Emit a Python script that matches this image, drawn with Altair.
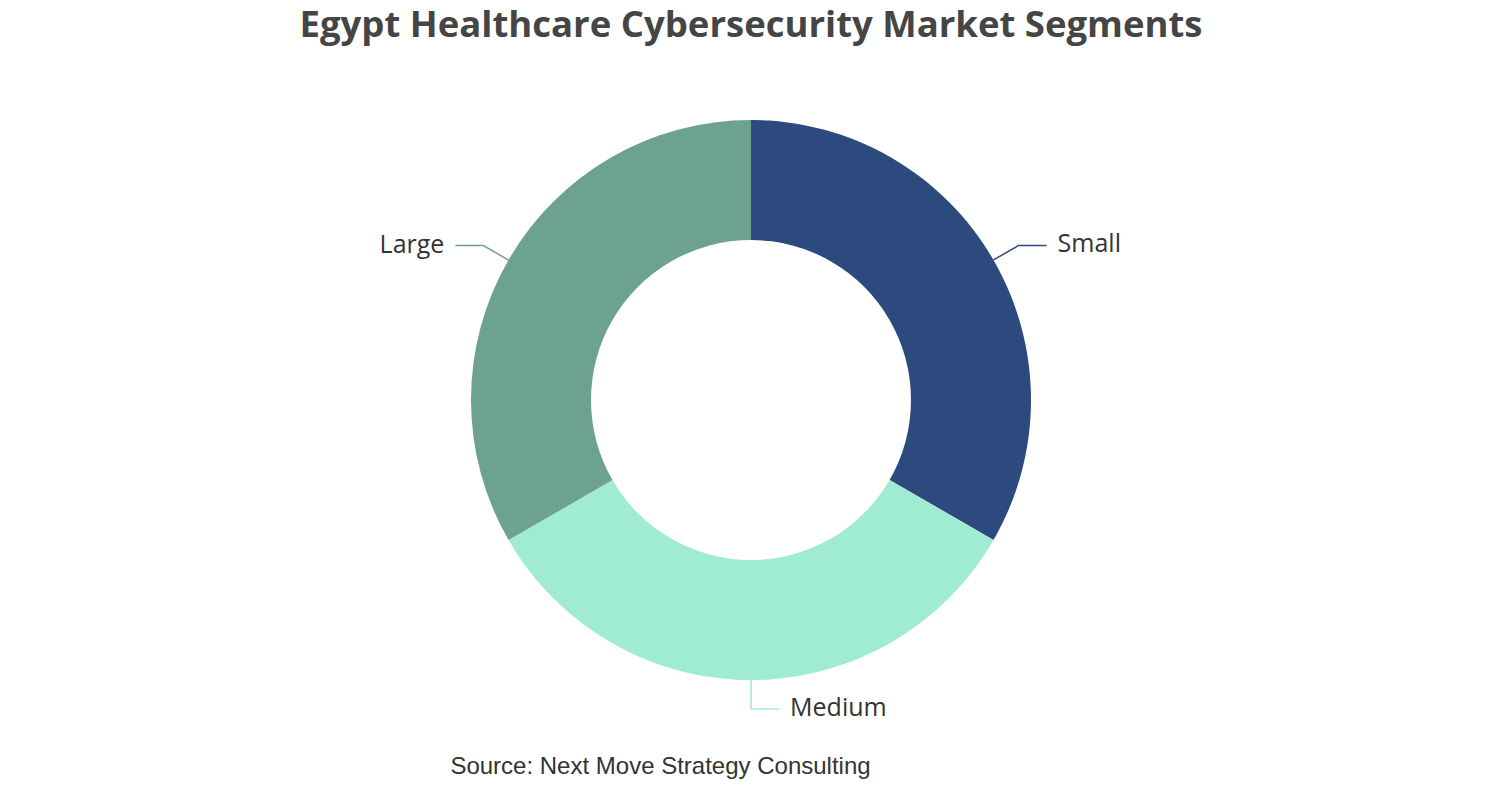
import math
import altair as alt
import pandas as pd

categories = ["Small", "Medium", "Large"]
shares = [33.33, 33.33, 33.34]
colors = ["#2c4a7d", "#a0ecd2", "#6da38e"]
title_text = "Egypt Healthcare Cybersecurity Market Segments"
source_text = "Source: Next Move Strategy Consulting"

W, H = 1486, 784
CX, CY = W / 2, H / 2
R_OUT, R_IN = 280, 160
ELBOW, HLEN, GAP = 29, 28, 11

df = pd.DataFrame({"category": categories, "share": shares, "order": range(len(categories))})

total = sum(shares)
line_rows, label_rows = [], []
cum = 0.0
for cat, v in zip(categories, shares):
    a = (cum + v / 2) / total * 2 * math.pi
    cum += v
    s, c = math.sin(a), math.cos(a)
    side = 1 if s >= -1e-9 else -1
    p0 = (CX + R_OUT * s, CY - R_OUT * c)
    p1 = (CX + (R_OUT + ELBOW) * s, CY - (R_OUT + ELBOW) * c)
    p2 = (p1[0] + side * HLEN, p1[1])
    for i, p in enumerate([p0, p1, p2]):
        line_rows.append({"category": cat, "i": i, "px": p[0], "py": p[1]})
    label_rows.append({"category": cat, "px": p2[0] + side * GAP, "py": p2[1] - 1,
                       "align": "left" if side > 0 else "right"})
lines = pd.DataFrame(line_rows)
labels = pd.DataFrame(label_rows)

color_scale = alt.Scale(domain=categories, range=colors)

donut = alt.Chart(df).mark_arc(innerRadius=R_IN, outerRadius=R_OUT).encode(
    theta=alt.Theta("share:Q", stack=True),
    color=alt.Color("category:N", scale=color_scale, legend=None),
    order=alt.Order("order:Q"),
)

leaders = alt.Chart(lines).mark_line(strokeWidth=1.5).encode(
    x=alt.X("px:Q", scale=None),
    y=alt.Y("py:Q", scale=None),
    detail="category:N",
    order="i:Q",
    color=alt.Color("category:N", scale=color_scale, legend=None),
)

left_labels = alt.Chart(labels[labels["align"] == "left"]).mark_text(
    align="left", baseline="middle", fontSize=25, font="Open Sans", color="#333333"
).encode(x=alt.X("px:Q", scale=None), y=alt.Y("py:Q", scale=None), text="category:N")

right_labels = alt.Chart(labels[labels["align"] == "right"]).mark_text(
    align="right", baseline="middle", fontSize=25, font="Open Sans", color="#333333"
).encode(x=alt.X("px:Q", scale=None), y=alt.Y("py:Q", scale=None), text="category:N")

title = alt.Chart(pd.DataFrame({"t": [title_text]})).mark_text(
    align="center", baseline="middle", fontSize=36.5, fontWeight="bold", font="Open Sans", color="#454545"
).encode(x=alt.value(CX), y=alt.value(18), text="t:N")

source = alt.Chart(pd.DataFrame({"t": [source_text]})).mark_text(
    align="center", baseline="middle", fontSize=24, font="Liberation Sans", color="#333333"
).encode(x=alt.value(652.5), y=alt.value(759), text="t:N")

chart = alt.layer(donut, leaders, left_labels, right_labels, title, source).properties(
    width=W, height=H, autosize=alt.AutoSizeParams(type="none"), padding=0
).configure_view(stroke=None)

chart.save("out.html", embed_options={"renderer": "svg", "actions": False})
